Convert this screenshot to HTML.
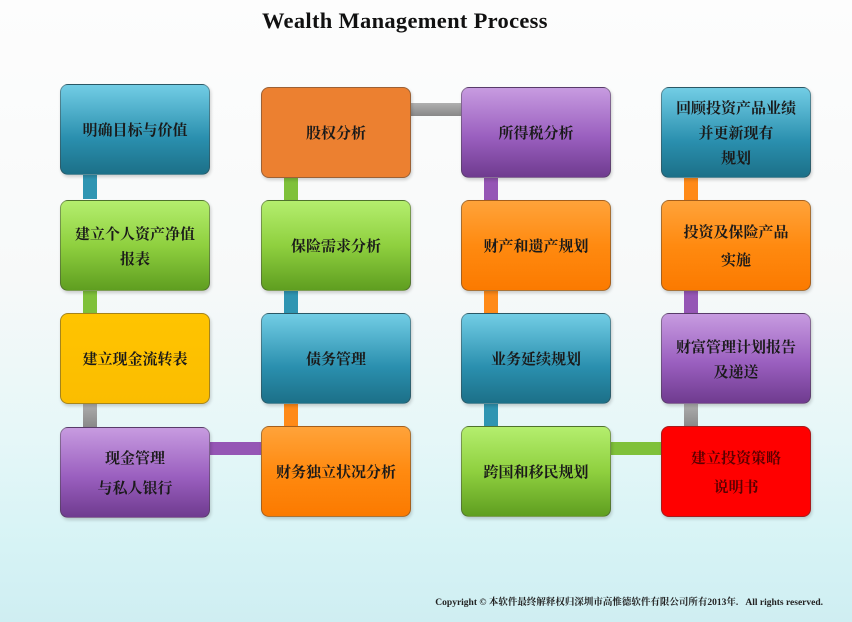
<!DOCTYPE html>
<html><head><meta charset="utf-8"><style>
html,body{margin:0;padding:0}
body{width:852px;height:622px;position:relative;overflow:hidden;
background:linear-gradient(180deg,#fdfdfd 0%,#f7f9f9 45%,#e6f7f8 70%,#d6f3f5 88%,#cfeef2 100%);
font-family:"Liberation Serif","Noto Serif CJK SC",serif}
.t{position:absolute;left:262px;top:8px;font-size:22.5px;font-weight:bold;color:#111;letter-spacing:0.3px}
.b{position:absolute;width:150px;height:91px;border-radius:8px;box-sizing:border-box;border:1px solid rgba(60,60,60,.45);
display:flex;align-items:center;justify-content:center;text-align:center;font-weight:bold;font-size:15px;line-height:25px;color:#1a1a1a;
box-shadow:1px 2px 3px rgba(0,0,0,.18);font-family:"Noto Serif CJK SC",serif}
.teal{background:linear-gradient(180deg,#72cde5,#2a8fae 60%,#1c7088)}
.orange{background:#ec8030}
.or2{background:linear-gradient(180deg,#ffa33a,#ff8a10 50%,#fb7a00)}
.green{background:linear-gradient(180deg,#b4ee6e,#8fd03f 50%,#5f9e20)}
.yellow{background:linear-gradient(180deg,#ffc400,#fbbd00)}
.purple{background:linear-gradient(180deg,#c79be0,#9a5fbf 55%,#6f3b8f)}
.red{background:#ff0000;color:#5a0000}
.c{position:absolute}
.v{width:14px;height:26px}
.h{height:13px;width:52px}
.ct{background:#2f95b2}.cg{background:#7fc13a}.cgr{background:linear-gradient(180deg,#b0b0b0,#888)}.cp{background:#9556b5}.co{background:#ff8a18}
.cr{position:absolute;right:29px;top:594px;font-size:9.5px;font-weight:bold;color:#222}
</style></head><body>
<div class="t">Wealth Management Process</div>

<div class="c v ct" style="left:83px;top:173px"></div>
<div class="c v cg" style="left:83px;top:289px"></div>
<div class="c v cgr" style="left:83px;top:402px"></div>
<div class="c h cp" style="left:210px;top:442px"></div>

<div class="c v cg" style="left:284px;top:177px"></div>
<div class="c v ct" style="left:284px;top:289px"></div>
<div class="c v co" style="left:284px;top:402px"></div>
<div class="c h cgr" style="left:410px;top:103px"></div>

<div class="c v cp" style="left:484px;top:177px"></div>
<div class="c v co" style="left:484px;top:289px"></div>
<div class="c v ct" style="left:484px;top:402px"></div>
<div class="c h cg" style="left:610px;top:442px"></div>

<div class="c v co" style="left:684px;top:177px"></div>
<div class="c v cp" style="left:684px;top:289px"></div>
<div class="c v cgr" style="left:684px;top:402px"></div>

<div class="b teal" style="left:60px;top:84px">明确目标与价值</div>
<div class="b green" style="left:60px;top:200px">建立个人资产净值<br>报表</div>
<div class="b yellow" style="left:60px;top:313px">建立现金流转表</div>
<div class="b purple" style="left:60px;top:427px;line-height:30px">现金管理<br>与私人银行</div>
<div class="b orange" style="left:261px;top:87px">股权分析</div>
<div class="b green" style="left:261px;top:200px">保险需求分析</div>
<div class="b teal" style="left:261px;top:313px">债务管理</div>
<div class="b or2" style="left:261px;top:426px">财务独立状况分析</div>
<div class="b purple" style="left:461px;top:87px">所得税分析</div>
<div class="b or2" style="left:461px;top:200px">财产和遗产规划</div>
<div class="b teal" style="left:461px;top:313px">业务延续规划</div>
<div class="b green" style="left:461px;top:426px">跨国和移民规划</div>
<div class="b teal" style="left:661px;top:87px;line-height:25px">回顾投资产品业绩<br>并更新现有<br>规划</div>
<div class="b or2" style="left:661px;top:200px;line-height:28px">投资及保险产品<br>实施</div>
<div class="b purple" style="left:661px;top:313px">财富管理计划报告<br>及递送</div>
<div class="b red" style="left:661px;top:426px;line-height:29px">建立投资策略<br>说明书</div>

<div class="cr">Copyright © 本软件最终解释权归深圳市高惟德软件有限公司所有2013年.&nbsp;&nbsp; All rights reserved.</div>
</body></html>
